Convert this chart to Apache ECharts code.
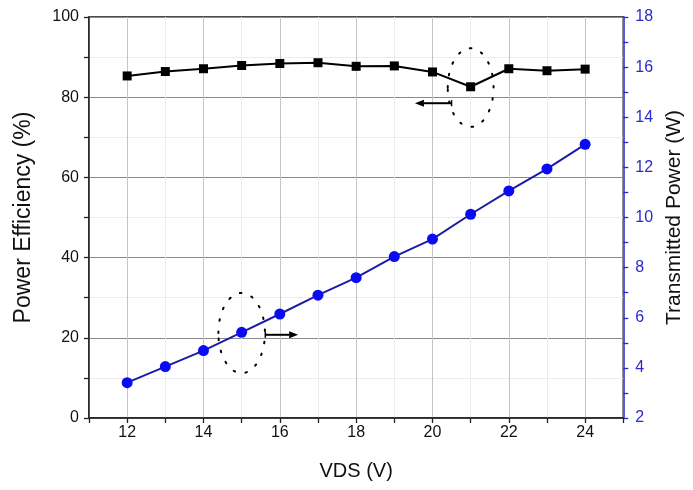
<!DOCTYPE html>
<html>
<head>
<meta charset="utf-8">
<script src="https://cdn.jsdelivr.net/npm/echarts@6/dist/echarts.min.js"></script>
<style>
html,body{margin:0;padding:0;background:#fff;}
#chart{width:693px;height:490px;}
</style>
</head>
<body>
<div id="chart"></div>
<script>
// ---- data ----
const vds = [12, 13, 14, 15, 16, 17, 18, 19, 20, 21, 22, 23, 24];
const efficiency = [85.3, 86.4, 87.1, 87.9, 88.4, 88.6, 87.7, 87.8, 86.3, 82.6, 87.1, 86.6, 87.0];
const transmittedPower = [3.41, 4.05, 4.69, 5.42, 6.15, 6.90, 7.60, 8.44, 9.14, 10.13, 11.06, 11.94, 12.92];
const xTickLabels = [12, 14, 16, 18, 20, 22, 24];
const leftTickLabels = [0, 20, 40, 60, 80, 100];
const rightTickLabels = [2, 4, 6, 8, 10, 12, 14, 16, 18];
// annotations: [centerX, centerY, radiusX, radiusY] in data units
const ellipseEfficiency = [21, 82.4, 0.6, 9.8];
const ellipsePower = [15, 5.39, 0.61, 1.6];
// arrows: [tailX, tipX, y] in data units
const arrowEfficiency = [20.5, 19.54, 78.5];
const arrowPower = [15.62, 16.48, 5.32];

const FONT = 'Liberation Sans, Arial, sans-serif';
const BLUE_AXIS = '#2a2acc';

function renderEllipse(params, api) {
  const c = api.coord([api.value(0), api.value(1)]);
  const s = api.size([api.value(2), api.value(3)]);
  return {
    type: 'ellipse',
    shape: { cx: c[0], cy: c[1], rx: s[0], ry: s[1] },
    style: { fill: null, stroke: '#000', lineWidth: 2, lineDash: [1.6, 10.6], lineCap: 'round' },
    silent: true
  };
}
function renderArrow(params, api) {
  const tail = api.coord([api.value(0), api.value(2)]);
  const tip = api.coord([api.value(1), api.value(2)]);
  const dir = Math.sign(tip[0] - tail[0]);
  const headLen = 9, headHalf = 3.5;
  return {
    type: 'group',
    children: [
      { type: 'line', shape: { x1: tail[0], y1: tail[1], x2: tip[0] - dir * headLen, y2: tip[1] },
        style: { stroke: '#000', lineWidth: 2 } },
      { type: 'polygon', shape: { points: [[tip[0], tip[1]], [tip[0] - dir * headLen, tip[1] - headHalf], [tip[0] - dir * headLen, tip[1] + headHalf]] },
        style: { fill: '#000' } },
      { type: 'line', shape: { x1: tail[0], y1: tail[1] - 3, x2: tail[0], y2: tail[1] + 3 },
        style: { stroke: '#000', lineWidth: 1.5 } }
    ]
  };
}

const chart = echarts.init(document.getElementById('chart'));
chart.setOption({
  animation: false,
  backgroundColor: '#fff',
  grid: { left: 89, right: 66, top: 17, bottom: 72, show: true, borderColor: '#111', borderWidth: 1.5, backgroundColor: 'transparent' },
  xAxis: {
    type: 'value', min: 11, max: 25, interval: 1,
    name: 'VDS (V)', nameLocation: 'middle', nameGap: 43,
    nameTextStyle: { fontFamily: FONT, fontSize: 20, color: '#111' },
    axisLine: { show: true, lineStyle: { color: '#222', width: 1.5 } },
    axisTick: { show: true, inside: false, length: 5, lineStyle: { color: '#222', width: 1.3 } },
    axisLabel: { margin: 7, fontFamily: FONT, fontSize: 16, color: '#111',
      formatter: v => xTickLabels.indexOf(v) >= 0 ? String(v) : '' },
    splitLine: { show: true, lineStyle: { color: ['#ececec', '#c4c4c4'], width: 1 } }
  },
  yAxis: [
    {
      type: 'value', min: 0, max: 100, interval: 10, position: 'left',
      name: 'Power Efficiency (%)', nameLocation: 'middle', nameGap: 54, nameRotate: 90,
      nameTextStyle: { fontFamily: FONT, fontSize: 23, color: '#111' },
      axisLine: { show: true, lineStyle: { color: '#222', width: 1.5 } },
      axisTick: { show: true, inside: false, length: 5, lineStyle: { color: '#222', width: 1.3 } },
      axisLabel: { margin: 10, fontFamily: FONT, fontSize: 16, color: '#111',
        formatter: v => leftTickLabels.indexOf(v) >= 0 ? String(v) : '' },
      splitLine: { show: true, lineStyle: { color: ['#8a8a8a', '#ececec'], width: 1 } }
    },
    {
      type: 'value', min: 2, max: 18, interval: 1, position: 'right',
      name: 'Transmitted Power (W)', nameLocation: 'middle', nameGap: 40, nameRotate: 90,
      nameTextStyle: { fontFamily: FONT, fontSize: 21, color: '#111' },
      axisLine: { show: true, lineStyle: { color: BLUE_AXIS, width: 1.5 } },
      axisTick: { show: true, inside: false, length: 5, lineStyle: { color: BLUE_AXIS, width: 1.3 } },
      axisLabel: { margin: 12, fontFamily: FONT, fontSize: 16, color: BLUE_AXIS,
        formatter: v => rightTickLabels.indexOf(v) >= 0 ? String(v) : '' },
      splitLine: { show: false }
    }
  ],
  series: [
    {
      type: 'line', yAxisIndex: 0, name: 'Power Efficiency',
      data: vds.map((x, i) => [x, efficiency[i]]),
      symbol: 'rect', symbolSize: 9,
      lineStyle: { color: '#000', width: 2 },
      itemStyle: { color: '#000' },
      z: 5
    },
    {
      type: 'line', yAxisIndex: 1, name: 'Transmitted Power',
      data: vds.map((x, i) => [x, transmittedPower[i]]),
      symbol: 'circle', symbolSize: 11,
      lineStyle: { color: '#1c1ca8', width: 2 },
      itemStyle: { color: '#0a0af5' },
      z: 5
    },
    { type: 'custom', yAxisIndex: 0, renderItem: renderEllipse, data: [ellipseEfficiency], z: 6, silent: true },
    { type: 'custom', yAxisIndex: 1, renderItem: renderEllipse, data: [ellipsePower], z: 6, silent: true },
    { type: 'custom', yAxisIndex: 0, renderItem: renderArrow, data: [arrowEfficiency], z: 6, silent: true },
    { type: 'custom', yAxisIndex: 1, renderItem: renderArrow, data: [arrowPower], z: 6, silent: true }
  ]
});
</script>
</body>
</html>
